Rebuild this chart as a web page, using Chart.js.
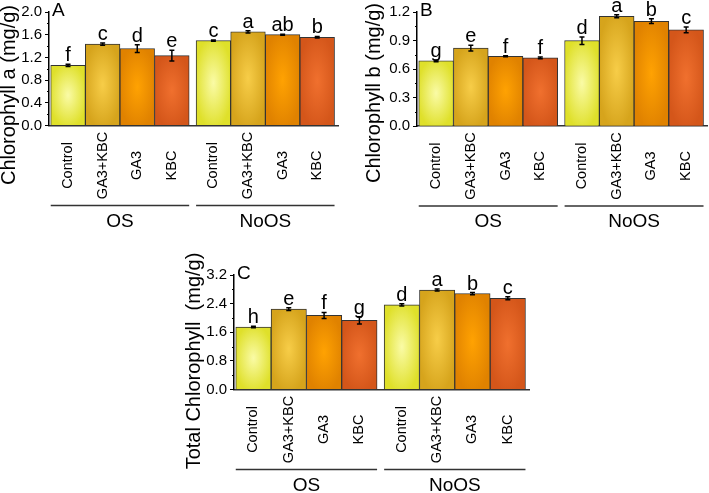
<!DOCTYPE html>
<html>
<head>
<meta charset="utf-8">
<script src="https://cdn.jsdelivr.net/npm/chart.js@4.4.1/dist/chart.umd.min.js"></script>
<style>
  body { margin: 0; background: #fff; }
  #wrap { position: relative; width: 709px; height: 493px; overflow: hidden; }
  canvas { position: absolute; }
</style>
</head>
<body>
<div id="wrap">
  <canvas id="chartA" width="355" height="240" style="left:0;top:0"></canvas>
  <canvas id="chartB" width="349" height="240" style="left:360px;top:0"></canvas>
  <canvas id="chartC" width="355" height="253" style="left:180px;top:240px"></canvas>
</div>
<script>
const treatments = ['Control', 'GA3+KBC', 'GA3', 'KBC'];
const groups = ['OS', 'NoOS'];

// OS group first, then NoOS, same treatment order in each
const chlA = [1.06, 1.435, 1.355, 1.23, 1.495, 1.65, 1.60, 1.555];
const chlAErr = [0.02, 0.02, 0.07, 0.095, 0.01, 0.02, 0.01, 0.015];
const chlALetters = ['f', 'c', 'd', 'e', 'c', 'a', 'ab', 'b'];

const chlB = [0.686, 0.82, 0.734, 0.717, 0.898, 1.155, 1.103, 1.012];
const chlBErr = [0.01, 0.03, 0.005, 0.01, 0.04, 0.015, 0.025, 0.03];
const chlBLetters = ['g', 'e', 'f', 'f', 'd', 'a', 'b', 'c'];

const chlTotal = [1.745, 2.245, 2.07, 1.93, 2.365, 2.78, 2.68, 2.55];
const chlTotalErr = [0.02, 0.04, 0.085, 0.1, 0.03, 0.03, 0.03, 0.04];
const chlTotalLetters = ['h', 'e', 'f', 'g', 'd', 'a', 'b', 'c'];

const edgeColors = ['#dfe02a', '#d6a41c', '#e08200', '#d4561a'];
const glowColors = ['#fafba6', '#f7cd48', '#ffa202', '#f0702e'];

const FONT = "'Liberation Sans', Arial, sans-serif";

// position on the linear x axis: 4 bars per group, small gap between groups
const barX = i => (i % 4) + 0.5 + Math.floor(i / 4) * 4.2;

function panelDecor(cfg) {
  return {
    id: 'decor',
    afterDatasetsDraw(chart) {
      const ctx = chart.ctx;
      const area = chart.chartArea;
      const yScale = chart.scales.y;
      const bars = chart.getDatasetMeta(0).data;

      // soft glow inside each bar
      bars.forEach((el, i) => {
        const { x, y, base, width } = el.getProps(['x', 'y', 'base', 'width'], true);
        const left = x - width / 2;
        ctx.save();
        ctx.beginPath();
        ctx.rect(left + 1, y + 1, width - 2, base - y - 1);
        ctx.clip();
        ctx.translate(x, (y + base) / 2);
        ctx.scale(width * 0.55, (base - y) * 0.55);
        const g = ctx.createRadialGradient(0, 0, 0, 0, 0, 1);
        g.addColorStop(0, glowColors[i % 4]);
        g.addColorStop(1, edgeColors[i % 4]);
        ctx.fillStyle = g;
        ctx.fillRect(-2, -2, 4, 4);
        ctx.restore();
      });

      // minor ticks on y axis
      ctx.save();
      ctx.strokeStyle = '#000';
      ctx.lineWidth = 1;
      for (let v = cfg.yStep / 2; v < cfg.yMax; v += cfg.yStep) {
        const py = Math.round(yScale.getPixelForValue(v)) + 0.5;
        ctx.beginPath();
        ctx.moveTo(area.left - 2, py);
        ctx.lineTo(area.left, py);
        ctx.stroke();
      }
      ctx.restore();

      // error bars and letters
      ctx.save();
      ctx.strokeStyle = '#000';
      ctx.lineWidth = 1.5;
      ctx.fillStyle = '#000';
      ctx.font = '20px ' + FONT;
      ctx.textAlign = 'center';
      ctx.textBaseline = 'alphabetic';
      bars.forEach((el, i) => {
        const x = el.x;
        const top = yScale.getPixelForValue(cfg.values[i] + cfg.errors[i]);
        const bot = yScale.getPixelForValue(cfg.values[i] - cfg.errors[i]);
        ctx.beginPath();
        ctx.moveTo(x, top); ctx.lineTo(x, bot);
        ctx.moveTo(x - 2.5, top); ctx.lineTo(x + 2.5, top);
        ctx.moveTo(x - 2.5, bot); ctx.lineTo(x + 2.5, bot);
        ctx.stroke();
        ctx.fillText(cfg.letters[i], x, top - 3);
      });
      ctx.restore();

      // rotated treatment labels
      ctx.save();
      ctx.fillStyle = '#000';
      ctx.font = '14.5px ' + FONT;
      ctx.textAlign = 'center';
      ctx.textBaseline = 'middle';
      bars.forEach((el, i) => {
        ctx.save();
        ctx.translate(el.x, area.bottom + 40);
        ctx.rotate(-Math.PI / 2);
        ctx.fillText(treatments[i % 4], 0, 0);
        ctx.restore();
      });
      ctx.restore();

      // group lines and names
      ctx.save();
      ctx.strokeStyle = '#333';
      ctx.lineWidth = 1.5;
      ctx.fillStyle = '#000';
      ctx.font = '19px ' + FONT;
      ctx.textAlign = 'center';
      ctx.textBaseline = 'middle';
      groups.forEach((name, gi) => {
        const first = bars[gi * 4], last = bars[gi * 4 + 3];
        const x0 = first.x - first.width / 2, x1 = last.x + last.width / 2;
        const ly = area.bottom + 80;
        ctx.beginPath();
        ctx.moveTo(x0, ly); ctx.lineTo(x1, ly);
        ctx.stroke();
        ctx.fillText(name, (x0 + x1) / 2, area.bottom + 96);
      });
      ctx.restore();

      // panel letter
      ctx.save();
      ctx.fillStyle = '#000';
      ctx.font = '19px ' + FONT;
      ctx.textAlign = 'left';
      ctx.textBaseline = 'alphabetic';
      ctx.fillText(cfg.panel, area.left + 3, area.top + 4);
      ctx.restore();

      // y title
      ctx.save();
      ctx.fillStyle = '#000';
      ctx.font = '20px ' + FONT;
      ctx.textAlign = 'center';
      ctx.textBaseline = 'middle';
      ctx.translate(cfg.titleX, cfg.titleY);
      ctx.rotate(-Math.PI / 2);
      ctx.fillText(cfg.title, 0, 0);
      ctx.restore();
    }
  };
}

function makeChart(id, cfg) {
  return new Chart(document.getElementById(id), {
    type: 'bar',
    data: {
      datasets: [{
        data: cfg.values.map((v, i) => ({ x: barX(i), y: v })),
        backgroundColor: cfg.values.map((v, i) => edgeColors[i % 4]),
        borderColor: '#333',
        borderWidth: 1,
        categoryPercentage: 1,
        barPercentage: 1
      }]
    },
    options: {
      responsive: false,
      animation: false,
      events: [],
      layout: { padding: { top: cfg.padTop, right: cfg.padRight, left: 0, bottom: 0 } },
      plugins: { legend: { display: false }, tooltip: { enabled: false } },
      scales: {
        x: {
          type: 'linear',
          offset: false,
          min: -0.05,
          max: 8.3,
          afterBuildTicks: s => { s.ticks = cfg.values.map((v, i) => ({ value: barX(i) })); },
          afterFit: s => { s.height = cfg.xAxisHeight; },
          ticks: { display: false },
          grid: { display: false, offset: false },
          border: { display: true, color: '#333', width: 1.5 }
        },
        y: {
          min: 0,
          max: cfg.yMax,
          afterFit: s => { s.width = cfg.axisWidth; },
          ticks: {
            stepSize: cfg.yStep,
            color: '#000',
            padding: 3,
            font: { family: FONT, size: 15 },
            callback: v => v.toFixed(1)
          },
          grid: { drawOnChartArea: false, tickLength: 4, color: '#000', lineWidth: 1 },
          border: { color: '#000', width: 1.5 }
        }
      }
    },
    plugins: [panelDecor(cfg)]
  });
}

makeChart('chartA', {
  values: chlA, errors: chlAErr, letters: chlALetters,
  yMax: 2.0, yStep: 0.4, panel: 'A',
  title: 'Chlorophyll a (mg/g)', titleX: 9, titleY: 95,
  axisWidth: 49, padTop: 12, padRight: 17, xAxisHeight: 114.5
});

makeChart('chartB', {
  values: chlB, errors: chlBErr, letters: chlBLetters,
  yMax: 1.2, yStep: 0.3, panel: 'B',
  title: 'Chlorophyll b (mg/g)', titleX: 14, titleY: 93,
  axisWidth: 57, padTop: 11, padRight: 2, xAxisHeight: 114
});

makeChart('chartC', {
  values: chlTotal, errors: chlTotalErr, letters: chlTotalLetters,
  yMax: 3.2, yStep: 0.8, panel: 'C',
  title: 'Total Chlorophyll  (mg/g)', titleX: 14, titleY: 121,
  axisWidth: 54, padTop: 35, padRight: 6, xAxisHeight: 103.5
});
</script>
</body>
</html>
